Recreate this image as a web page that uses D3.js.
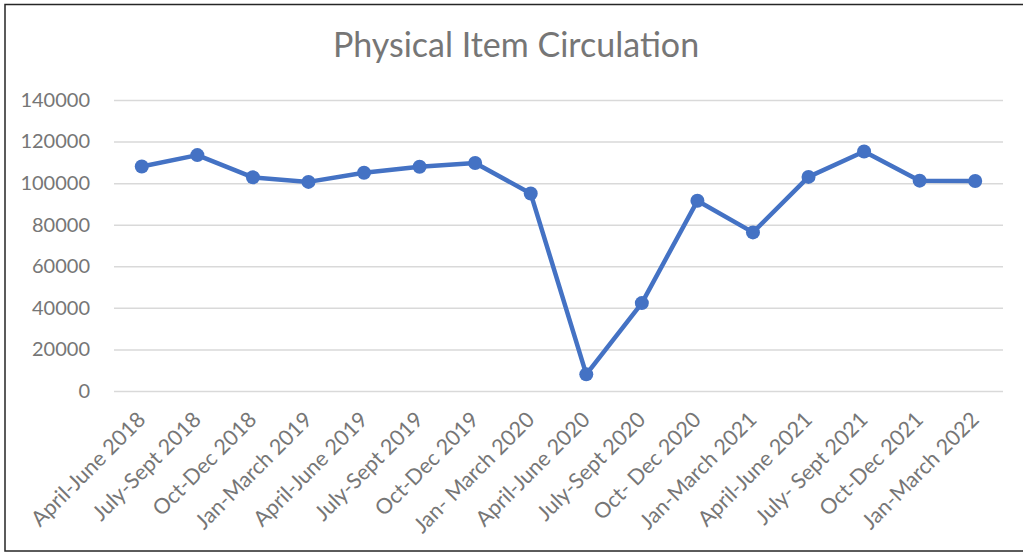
<!DOCTYPE html>
<html>
<head>
<meta charset="utf-8">
<script src="https://cdn.jsdelivr.net/npm/d3@7"></script>
<style>
  body { margin: 0; background: #fff; }
  svg { display: block; font-family: Lato, "Open Sans", sans-serif; }
</style>
</head>
<body>
<div id="chart"></div>
<script>
// quarters shown along the bottom
const quarters = [
  'April-June 2018', 'July-Sept 2018', 'Oct-Dec 2018', 'Jan-March 2019',
  'April-June 2019', 'July-Sept 2019', 'Oct-Dec 2019', 'Jan- March 2020',
  'April-June 2020', 'July-Sept 2020', 'Oct- Dec 2020', 'Jan-March 2021',
  'April-June 2021', 'July- Sept 2021', 'Oct-Dec 2021', 'Jan-March 2022'
];

// circulation counts
const circulation = [
  108000, 113500, 102800, 100600,
  105000, 107900, 109700, 95000,
  8000, 42300, 91500, 76300,
  103000, 115200, 101200, 101000
];

const yTicks = [0, 20000, 40000, 60000, 80000, 100000, 120000, 140000];

const width = 1023;
const height = 554;
const plot = { left: 114, right: 1003, top: 100, bottom: 391 };

const svg = d3.select('#chart')
  .append('svg')
  .attr('width', width)
  .attr('height', height);

// outer frame (right side runs off the picture)
svg.append('rect')
  .attr('x', 5)
  .attr('y', 4.5)
  .attr('width', 1030)
  .attr('height', 546.5)
  .attr('fill', '#fff')
  .attr('stroke', '#262626')
  .attr('stroke-width', 1.5);

svg.append('text')
  .attr('x', 516)
  .attr('y', 57)
  .attr('text-anchor', 'middle')
  .attr('fill', '#767676')
  .style('font-size', '34px')
  .text('Physical Item Circulation');

const xScale = d3.scaleBand()
  .domain(quarters)
  .range([plot.left, plot.right]);

const yScale = d3.scaleLinear()
  .domain([0, 140000])
  .range([plot.bottom, plot.top]);

// gridlines
svg.append('g')
  .attr('class', 'gridlines')
  .attr('transform', `translate(${plot.left}, 0)`)
  .call(d3.axisLeft(yScale).tickValues(yTicks).tickFormat('').tickSize(-(plot.right - plot.left)))
  .call((g) => g.select('.domain').remove())
  .call((g) => g.selectAll('line').attr('stroke', '#d9d9d9').attr('stroke-width', 1.5));

// y axis labels
svg.append('g')
  .attr('transform', `translate(${plot.left}, 0)`)
  .call(d3.axisLeft(yScale).tickValues(yTicks).tickFormat((d) => String(d)).tickSize(0).tickPadding(24))
  .call((g) => g.select('.domain').remove())
  .call((g) => g.selectAll('text')
    .attr('fill', '#767676')
    .style('font-size', '20px')
    .style('font-family', 'Lato, sans-serif'));

// x axis labels, rotated
svg.append('g')
  .attr('transform', `translate(0, ${plot.bottom})`)
  .call(d3.axisBottom(xScale).tickSize(0).tickPadding(0))
  .call((g) => g.select('.domain').remove())
  .call((g) => g.selectAll('text')
    .attr('fill', '#767676')
    .style('font-size', '21.5px')
    .style('font-family', 'Lato, sans-serif')
    .attr('text-anchor', 'end')
    .attr('dy', null)
    .attr('y', 0)
    .attr('transform', 'translate(5, 30) rotate(-45)'));

const points = quarters.map((q, i) => ({ q, v: circulation[i] }));

const line = d3.line()
  .x((d) => xScale(d.q) + xScale.bandwidth() / 2)
  .y((d) => yScale(d.v));

svg.append('path')
  .datum(points)
  .attr('d', line)
  .attr('fill', 'none')
  .attr('stroke', '#4472c4')
  .attr('stroke-width', 4.5)
  .attr('stroke-linejoin', 'round');

svg.append('g')
  .selectAll('circle')
  .data(points)
  .join('circle')
  .attr('cx', (d) => xScale(d.q) + xScale.bandwidth() / 2)
  .attr('cy', (d) => yScale(d.v))
  .attr('r', 7)
  .attr('fill', '#4472c4');
</script>
</body>
</html>
